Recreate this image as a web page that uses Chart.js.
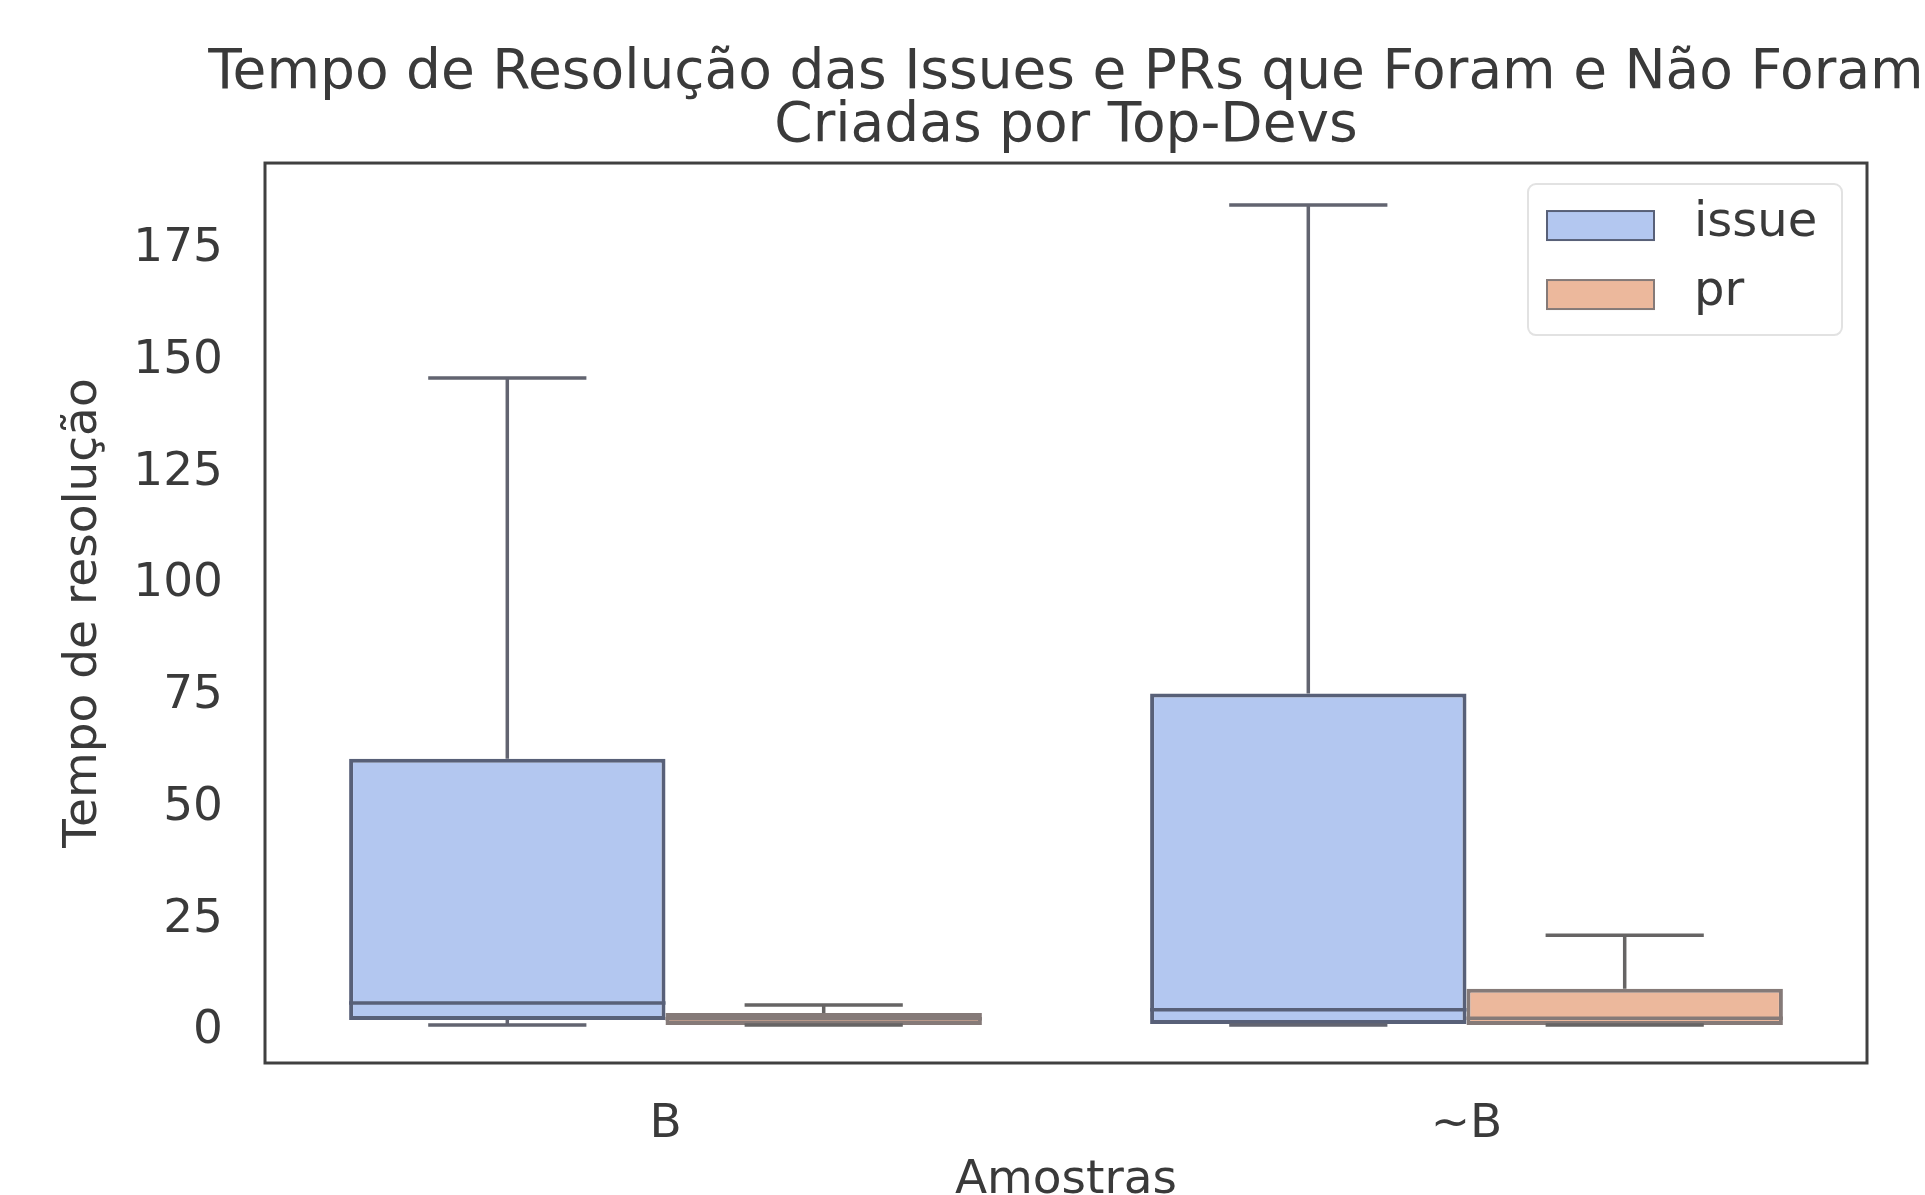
<!DOCTYPE html>
<html>
<head>
<meta charset="utf-8">
<title>Tempo de Resolução - Top-Devs</title>
<script src="https://cdn.jsdelivr.net/npm/chart.js@4.4.1/dist/chart.umd.min.js"></script>
<style>
    html, body { margin: 0; padding: 0; background: #ffffff; }
    #wrap { width: 1925px; height: 1195px; position: relative; }
</style>
</head>
<body>
<div id="wrap"><canvas id="boxChart"></canvas></div>
<script>
/* ========================================
   Boxplot: issue vs pr, B / ~B
   ======================================== */

// Categories and tick labels
const categories = ['B', '~B'];
const yTicks = [0, 25, 50, 75, 100, 125, 150, 175];
const yMin = -8.5;
const yMax = 192.9;

// Box statistics (per category)
const issueWhiskerLo = [0, 0];
const issueQ1 = [1.1, 0.2];
const issueMedian = [4.9, 3.4];
const issueQ3 = [59.6, 74.2];
const issueWhiskerHi = [144.8, 183.5];

const prWhiskerLo = [0, 0];
const prQ1 = [0, 0];
const prMedian = [1.4, 1.5];
const prQ3 = [2.7, 8.1];
const prWhiskerHi = [4.5, 20.1];

const TEXT = '#3a3a3a';
const FONT = "'DejaVu Sans', sans-serif";

// Whiskers, caps and median lines, drawn on top of the floating bars
const boxExtras = {
    id: 'boxExtras',
    afterLayout(chart) {
        // let the title run wider than the plot, still centred on it
        const t = chart.titleBlock;
        if (!t) return;
        const c = (chart.chartArea.left + chart.chartArea.right) / 2;
        t.left = c - 900;
        t.right = c + 900;
        t.width = 1800;
    },
    afterDatasetsDraw(chart) {
        const ctx = chart.ctx;
        const y = chart.scales.y;
        chart.data.datasets.forEach((ds, i) => {
            const meta = chart.getDatasetMeta(i);
            meta.data.forEach((el, j) => {
                const x = el.x;
                const w = el.width;
                ctx.save();
                ctx.strokeStyle = ds.lineColor;
                ctx.lineWidth = 3.5;
                ctx.beginPath();
                // upper whisker + cap
                ctx.moveTo(x, y.getPixelForValue(ds.q3[j]));
                ctx.lineTo(x, y.getPixelForValue(ds.hi[j]));
                ctx.moveTo(x - w / 4, y.getPixelForValue(ds.hi[j]));
                ctx.lineTo(x + w / 4, y.getPixelForValue(ds.hi[j]));
                // lower whisker + cap
                ctx.moveTo(x, y.getPixelForValue(ds.q1[j]));
                ctx.lineTo(x, y.getPixelForValue(ds.lo[j]));
                ctx.moveTo(x - w / 4, y.getPixelForValue(ds.lo[j]));
                ctx.lineTo(x + w / 4, y.getPixelForValue(ds.lo[j]));
                ctx.stroke();
                // median
                ctx.strokeStyle = ds.borderColor;
                ctx.beginPath();
                ctx.moveTo(x - w / 2, y.getPixelForValue(ds.med[j]));
                ctx.lineTo(x + w / 2, y.getPixelForValue(ds.med[j]));
                ctx.stroke();
                ctx.restore();
            });
        });
    },
    afterDraw(chart) {
        const ctx = chart.ctx;
        const a = chart.chartArea;
        // axes frame
        ctx.save();
        ctx.strokeStyle = '#404040';
        ctx.lineWidth = 3;
        ctx.strokeRect(a.left, a.top, a.right - a.left, a.bottom - a.top);

        // legend inside the plot, upper right
        const lx = a.right - 339, ly = a.top + 21, lw = 314, lh = 151;
        ctx.beginPath();
        ctx.roundRect(lx, ly, lw, lh, 8);
        ctx.fillStyle = 'rgba(255,255,255,0.8)';
        ctx.fill();
        ctx.strokeStyle = '#e2e2e2';
        ctx.lineWidth = 2;
        ctx.stroke();
        ctx.font = '48px ' + FONT;
        ctx.textBaseline = 'middle';
        chart.data.datasets.forEach((ds, i) => {
            const sy = ly + 27 + i * 69;
            ctx.fillStyle = ds.backgroundColor;
            ctx.fillRect(lx + 19, sy, 107, 29);
            ctx.strokeStyle = ds.borderColor;
            ctx.lineWidth = 2;
            ctx.strokeRect(lx + 19, sy, 107, 29);
            ctx.fillStyle = TEXT;
            ctx.fillText(ds.label, lx + 166, sy + 12);
        });
        ctx.restore();
    }
};

new Chart(document.getElementById('boxChart'), {
    type: 'bar',
    data: {
        labels: categories,
        datasets: [
            {
                label: 'issue',
                data: issueQ1.map((v, i) => [v, issueQ3[i]]),
                q1: issueQ1, q3: issueQ3, med: issueMedian, lo: issueWhiskerLo, hi: issueWhiskerHi,
                backgroundColor: '#b3c7f0',
                borderColor: '#586078',
                lineColor: '#626470',
                borderWidth: 4,
                borderSkipped: false
            },
            {
                label: 'pr',
                data: prQ1.map((v, i) => [v, prQ3[i]]),
                q1: prQ1, q3: prQ3, med: prMedian, lo: prWhiskerLo, hi: prWhiskerHi,
                backgroundColor: '#ecb89c',
                borderColor: '#857a78',
                lineColor: '#666464',
                borderWidth: 4,
                borderSkipped: false
            }
        ]
    },
    options: {
        responsive: true,
        maintainAspectRatio: false,
        animation: false,
        datasets: {
            bar: { categoryPercentage: 0.79, barPercentage: 1.0 }
        },
        layout: { padding: { left: 0, right: 58, top: 0, bottom: 0 } },
        plugins: {
            legend: { display: false },
            tooltip: { enabled: false },
            title: {
                display: true,
                fullSize: false,
                text: ['Tempo de Resolução das Issues e PRs que Foram e Não Foram', 'Criadas por Top-Devs'],
                color: TEXT,
                font: { family: FONT, size: 55, weight: 'normal', lineHeight: 0.964 },
                padding: { top: 47.5, bottom: 9.5 }
            }
        },
        scales: {
            x: {
                grid: { display: false, drawTicks: false },
                border: { display: false },
                ticks: { color: TEXT, font: { family: FONT, size: 47 }, padding: 34 },
                title: {
                    display: true,
                    text: 'Amostras',
                    color: TEXT,
                    font: { family: FONT, size: 47, lineHeight: 0.6 },
                    padding: { top: 1, bottom: 0 }
                },
                afterFit(scale) { scale.height = 132; }
            },
            y: {
                min: yMin,
                max: yMax,
                grid: { display: false, drawTicks: false },
                border: { display: false },
                afterBuildTicks(scale) { scale.ticks = yTicks.map(v => ({ value: v })); },
                ticks: { color: TEXT, font: { family: FONT, size: 47 }, padding: 42, labelOffset: 6 },
                title: {
                    display: true,
                    text: 'Tempo de resolução',
                    color: TEXT,
                    font: { family: FONT, size: 47, lineHeight: 1.2 },
                    padding: { top: 56, bottom: 0 }
                },
                afterFit(scale) { scale.width = 265; }
            }
        }
    },
    plugins: [boxExtras]
});
</script>
</body>
</html>
